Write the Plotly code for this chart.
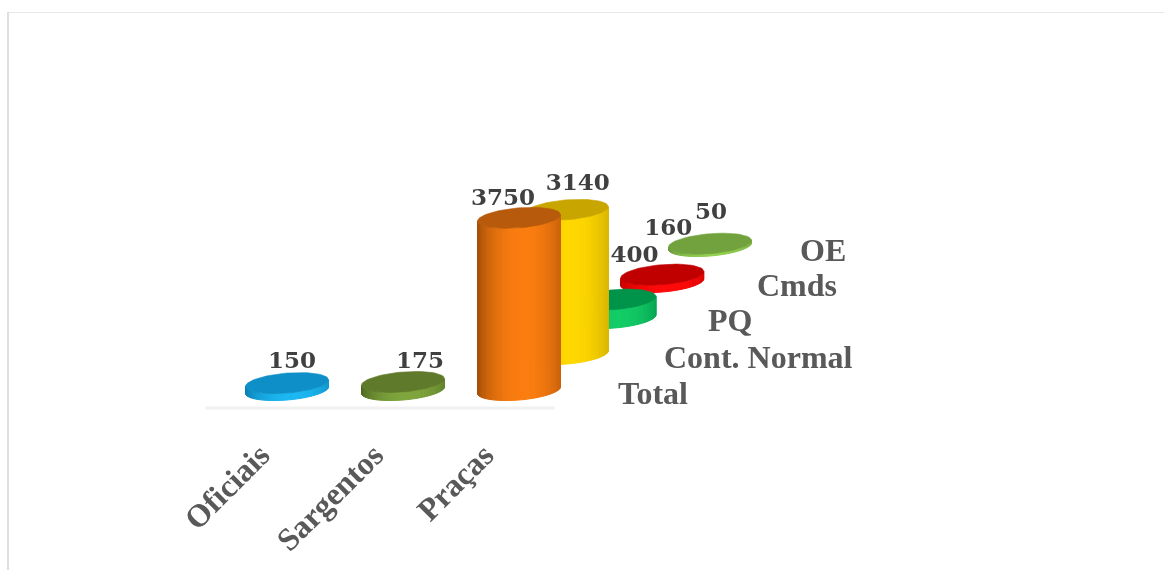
import math
import plotly.graph_objects as go

categories = ["Oficiais", "Sargentos", "Praças"]
series_names = ["Total", "Cont. Normal", "PQ", "Cmds", "OE"]
total_values = [150, 175, 3750]
cont_normal_values = [3140]
pq_values = [400]
cmds_values = [160]
oe_values = [50]

W, H = 1164, 570
PX_X = 116.0      # px per category
PX_Y = 0.0459     # px per value unit
X0, Y0 = 287.0, 390.0
DEPTH_X, DEPTH_Y = 47.75 / PX_X, 36.0 / PX_Y
A, B = 41.5 / PX_X, 10.0 / PX_Y
TILT = 0.08 * 41.5 / PX_Y
N = 36
TICK_SHIFTS = [0.23, 0.25, 0.30]

colors = {
    "blue": ("#0f8fc8", "#0b7fb5", "#1cb8f2"),
    "olive": ("#5f7a2a", "#4f6a20", "#7fa63e"),
    "orange": ("#b85a0c", "#a44f08", "#fb7d10"),
    "yellow": ("#c9a500", "#bd9a00", "#ffd800"),
    "green": ("#00934a", "#008a44", "#12cc66"),
    "red": ("#c00000", "#c80000", "#ff0a0a"),
    "lime": ("#72a23e", "#6c9a3a", "#92d050"),
}

# (series depth, category index, value, colour, label dx px, label dy px)
marks = [
    (4, 2, oe_values[0], "lime", 1, -30),
    (3, 2, cmds_values[0], "red", 6, -45),
    (2, 2, pq_values[0], "green", 20, -43),
    (1, 2, cont_normal_values[0], "yellow", 11, -26),
    (0, 0, total_values[0], "blue", 5, -21),
    (0, 1, total_values[1], "olive", 17, -20),
    (0, 2, total_values[2], "orange", -16, -19),
]


def mix(c1, c2, f):
    a = [int(c1[i:i + 2], 16) for i in (1, 3, 5)]
    b = [int(c2[i:i + 2], 16) for i in (1, 3, 5)]
    return "rgb(%d,%d,%d)" % tuple(round(p + (q - p) * f) for p, q in zip(a, b))


def rim(cx, cy, t):
    # t in 0..pi runs along the near (lower) edge, from right to left
    return cx + A * math.cos(t), cy - B * math.sin(t) + TILT * math.cos(t)


fig = go.Figure()

fig.add_trace(go.Scatter(
    x=[(205 - X0) / PX_X, (555 - X0) / PX_X], y=[(Y0 - 408) / PX_Y] * 2,
    mode="lines", line=dict(color="#f1f1f1", width=3), hoverinfo="skip", showlegend=False))

lx, ly, lt = [], [], []
for depth, cat, value, cname, dx, dy in marks:
    top, edge, centre = colors[cname]
    cx = cat + depth * DEPTH_X
    base = depth * DEPTH_Y
    for i in range(N):
        t1 = math.pi * i / N
        t2 = math.pi * (i + 1) / N
        u = (1 + math.cos((t1 + t2) / 2)) / 2
        f = 1 - ((u - 0.55) / 0.55) ** 2
        col = mix(edge, centre, max(0, f) ** 0.8)
        b1, b2 = rim(cx, base, t1), rim(cx, base, t2)
        c1, c2 = rim(cx, base + value, t1), rim(cx, base + value, t2)
        fig.add_trace(go.Scatter(
            x=[b1[0], b2[0], c2[0], c1[0], b1[0]], y=[b1[1], b2[1], c2[1], c1[1], b1[1]],
            mode="lines", fill="toself", fillcolor=col, line=dict(color=col, width=1),
            hoverinfo="skip", showlegend=False))
    ring = [rim(cx, base + value, 2 * math.pi * i / 72) for i in range(73)]
    fig.add_trace(go.Scatter(
        x=[p[0] for p in ring], y=[p[1] for p in ring], mode="lines", fill="toself",
        fillcolor=top, line=dict(color=top, width=0.6), hoverinfo="skip", showlegend=False))
    lx.append(cx + dx / PX_X)
    ly.append(base + value - dy / PX_Y)
    lt.append(str(value))

fig.add_trace(go.Scatter(
    x=lx, y=ly, text=lt, mode="text", textposition="middle center",
    textfont=dict(family="DejaVu Serif", size=23, color="#404040", weight="bold"),
    hoverinfo="skip", showlegend=False))

series_label_px = [(653, 393), (758, 357), (730, 320), (797, 285), (823, 250)]
annotations = [
    dict(x=px / W, y=1 - py / H, xref="paper", yref="paper", text="<b>%s</b>" % name, showarrow=False,
         xanchor="center", yanchor="middle",
         font=dict(family="Liberation Serif", size=32, color="#595959"))
    for name, (px, py) in zip(series_names, series_label_px)
]

frame = dict(type="line", xref="paper", yref="paper")
shapes = [
    dict(frame, x0=8 / W, x1=1, y0=1 - 12.5 / H, y1=1 - 12.5 / H, line=dict(color="#e8e8e8", width=1)),
    dict(frame, x0=8 / W, x1=8 / W, y0=1 - 12 / H, y1=0, line=dict(color="#dedede", width=2)),
]

fig.update_layout(
    width=W, height=H, margin=dict(l=0, r=0, t=0, b=0),
    paper_bgcolor="white", plot_bgcolor="white", showlegend=False,
    annotations=annotations, shapes=shapes,
    xaxis=dict(range=[-X0 / PX_X, (W - X0) / PX_X], anchor="free", position=1 - 429 / H,
               tickmode="array", tickvals=[i - s for i, s in enumerate(TICK_SHIFTS)],
               ticktext=categories, tickangle=-45,
               tickfont=dict(family="Liberation Serif", size=32, color="#595959", weight="bold"),
               showgrid=False, zeroline=False, showline=False, ticks=""),
    yaxis=dict(range=[(Y0 - H) / PX_Y, Y0 / PX_Y], visible=False),
)

fig.write_html(
    "out.html",
    config={"displayModeBar": False},
    post_script="document.body.style.margin='0';"
                "document.querySelector('.plotly-graph-div').style.filter='blur(0.5px)';",
)
